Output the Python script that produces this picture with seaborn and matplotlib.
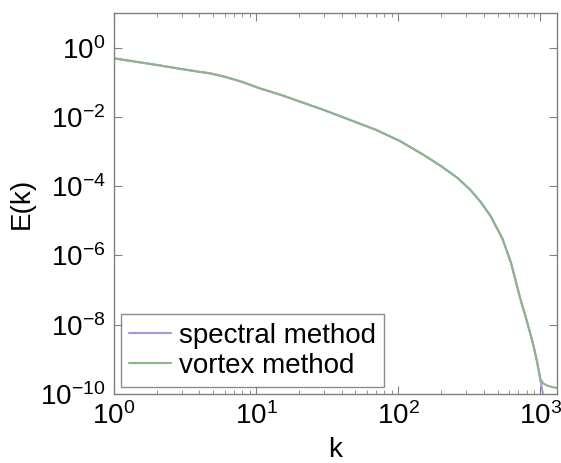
import numpy as np
import pandas as pd
import matplotlib
matplotlib.use("Agg")
import matplotlib.pyplot as plt
from matplotlib.ticker import LogLocator, NullLocator
import seaborn as sns

# values (log-log energy spectrum)
k_shared = [1, 2, 3, 4, 4.7, 6, 8, 10.7, 15, 20.4, 30, 46, 70, 103, 150, 200, 260, 320,
            380, 445, 540, 620, 720, 800, 890, 950]
E_shared = [0.49, 0.316, 0.24, 0.20, 0.182, 0.145, 0.102, 0.066, 0.043, 0.0275, 0.0158,
            8.1e-3, 4.2e-3, 2.0e-3, 8.1e-4, 3.8e-4, 1.75e-4, 8.0e-5, 3.5e-5, 1.4e-5, 3.1e-6,
            6.3e-7, 5.9e-8, 1.35e-8, 2.7e-9, 8.1e-10]
k_spectral_tail = [1000, 1075]
E_spectral_tail = [2.5e-10, 5e-11]
k_vortex_tail = [1000, 1050, 1120, 1200, 1310]
E_vortex_tail = [2.7e-10, 2.0e-10, 1.75e-10, 1.6e-10, 1.5e-10]
y_ticks = [1e0, 1e-2, 1e-4, 1e-6, 1e-8, 1e-10]

sns.set_style("ticks")
plt.rcParams["font.family"] = ["Liberation Sans", "DejaVu Sans"]
plt.rcParams["mathtext.fontset"] = "custom"
plt.rcParams["mathtext.rm"] = "Liberation Sans"
plt.rcParams["mathtext.it"] = "Liberation Sans:italic"
plt.rcParams["text.color"] = "black"
plt.rcParams["axes.labelcolor"] = "black"
plt.rcParams["xtick.labelcolor"] = "black"
plt.rcParams["ytick.labelcolor"] = "black"

spec = pd.DataFrame({"k": k_shared + k_spectral_tail, "E": E_shared + E_spectral_tail})
vort = pd.DataFrame({"k": k_shared + k_vortex_tail, "E": E_shared + E_vortex_tail})

fig = plt.figure(figsize=(5.61, 4.63), dpi=100)
ax = fig.add_axes([0.203, 0.149, 0.790, 0.823])

sns.lineplot(data=spec, x="k", y="E", ax=ax, color="#9c9ce0", lw=1.5,
             label="spectral method", sort=False)
sns.lineplot(data=vort, x="k", y="E", ax=ax, color="#8db588", lw=1.5,
             label="vortex method", sort=False)

ax.set_xscale("log")
ax.set_yscale("log")
ax.set_xlim(1, 1310)
ax.set_ylim(1e-10, 10)
ax.set_yticks(y_ticks)
ax.yaxis.set_minor_locator(NullLocator())
ax.xaxis.set_minor_locator(LogLocator(base=10, subs=np.arange(2, 10)))

for s in ax.spines.values():
    s.set_color("#808080")
    s.set_linewidth(1.0)
ax.tick_params(which="both", direction="in", top=True, right=True,
               color="#808080", labelsize=20, pad=6)
ax.tick_params(which="major", length=6)
ax.tick_params(which="minor", length=3)

ax.set_xlabel("k", fontsize=20, labelpad=5)
ax.set_ylabel("E(k)", fontsize=20, labelpad=4)

leg = ax.legend(loc="lower left", fontsize=20, frameon=True, fancybox=False,
                handlelength=1.5, handletextpad=0.3, borderpad=0.3,
                labelspacing=0.15, borderaxespad=0.25)
leg.get_frame().set_edgecolor("#707070")
leg.get_frame().set_linewidth(1.0)

fig.savefig("out.png", dpi=100)
